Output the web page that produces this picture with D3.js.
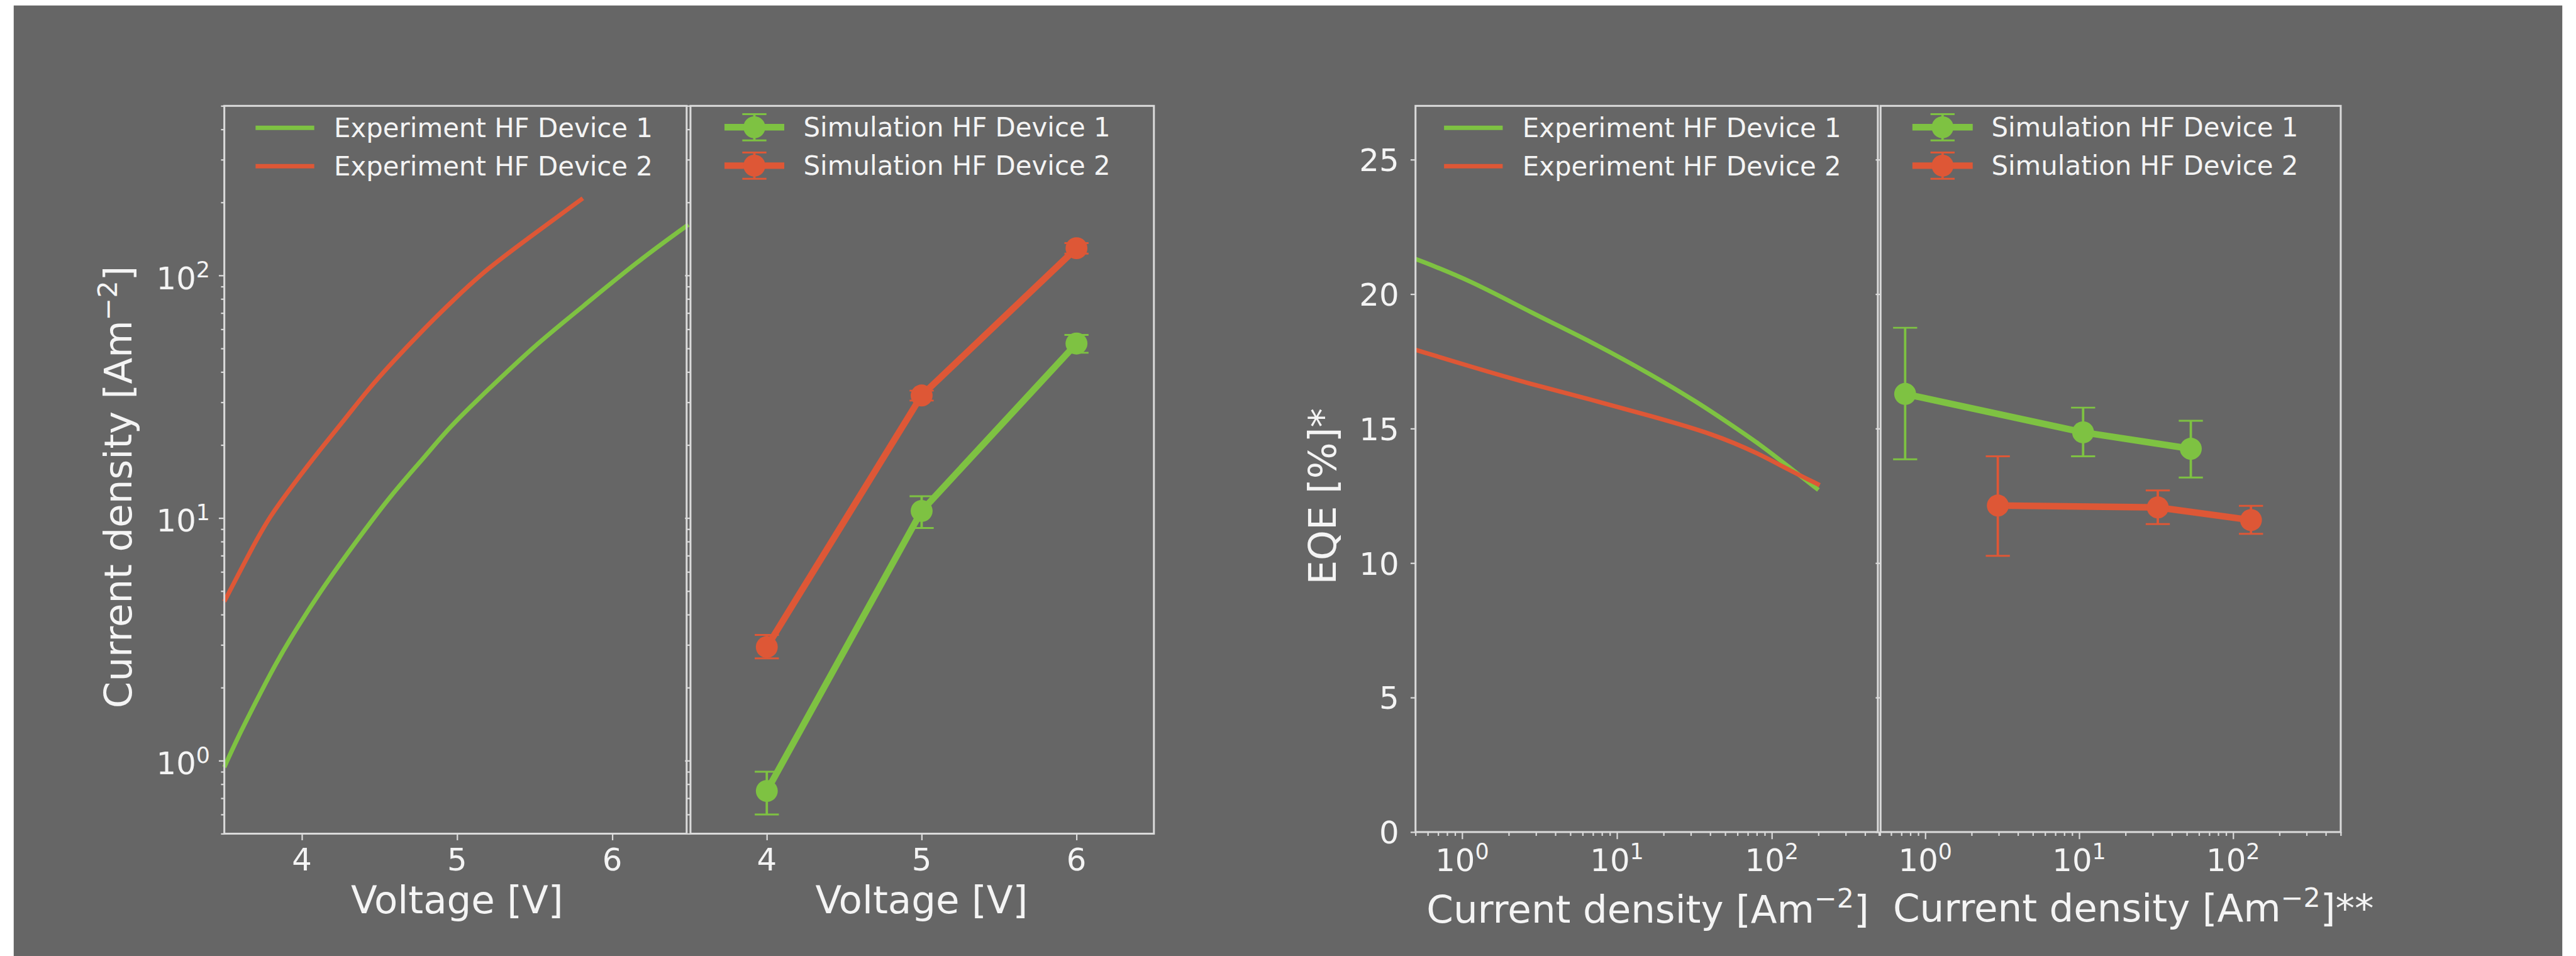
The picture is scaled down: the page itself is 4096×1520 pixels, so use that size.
<!DOCTYPE html>
<html>
<head>
<meta charset="utf-8">
<script src="https://cdn.jsdelivr.net/npm/d3@7"></script>
<style>
  body { margin: 0; background: #fff; }
  svg { display: block; }
  text { font-family: "DejaVu Sans", sans-serif; fill: #f4f4f4; }
</style>
</head>
<body>
<div id="chart"></div>
<script>
// ---------- data ----------
var voltTicks = [4, 5, 6];
var eqeTicks = [0, 5, 10, 15, 20, 25];

// experiment, current density vs voltage
var expV1 = [3.50, 3.58, 3.70, 3.83, 3.97, 4.15, 4.34, 4.58, 4.79, 4.95, 5.18, 5.50, 5.81, 6.16, 6.49];
var expJ1 = [0.94, 1.22, 1.73, 2.51, 3.55, 5.33, 7.86, 12.6, 17.8, 23.7, 32.9, 51.5, 74.4, 114, 162];
var expV2 = [3.50, 3.68, 3.79, 3.95, 4.11, 4.28, 4.42, 4.58, 4.79, 4.99, 5.18, 5.50, 5.81];
var expJ2 = [4.53, 7.55, 10.1, 13.9, 18.9, 25.7, 33.5, 43.7, 60.6, 80.8, 105, 149, 208];

// simulation, current density vs voltage (with error range)
var simV = [4, 5, 6];
var simJ1 = [0.75, 10.7, 52.4];
var simJ1lo = [0.60, 9.1, 48.0];
var simJ1hi = [0.90, 12.3, 56.9];
var simJ2 = [2.94, 32.0, 129.5];
var simJ2lo = [2.64, 30.5, 123];
var simJ2hi = [3.30, 33.5, 136];

// experiment, EQE vs current density
var eqeJ1 = [0.5, 1.13, 2.79, 6.9, 17.0, 33.5, 52.7, 82.6, 130, 200];
var eqe1 = [21.31, 20.51, 19.31, 18.22, 16.98, 15.96, 15.20, 14.44, 13.56, 12.72];
var eqeJ2 = [0.5, 1.13, 2.79, 6.9, 17.0, 42.1, 82.6, 130, 204];
var eqe2 = [17.93, 17.31, 16.65, 16.07, 15.45, 14.80, 14.07, 13.45, 12.90];

// simulation, EQE vs current density (with error range)
var simEqeJ1 = [0.74, 10.6, 53.1];
var simEqe1 = [16.29, 14.86, 14.25];
var simEqe1lo = [13.86, 13.97, 13.18];
var simEqe1hi = [18.75, 15.78, 15.29];
var simEqeJ2 = [2.96, 32.4, 130.6];
var simEqe2 = [12.14, 12.07, 11.60];
var simEqe2lo = [10.27, 11.45, 11.09];
var simEqe2hi = [13.97, 12.70, 12.13];

var expNames = ["Experiment HF Device 1", "Experiment HF Device 2"];
var simNames = ["Simulation HF Device 1", "Simulation HF Device 2"];

// ---------- setup ----------
var green = "#7ec242", red = "#de5736", spine = "#dadada";

// drawn in the reference's own pixel units, viewBox shrinks it to the window
var svg = d3.select("#chart").append("svg")
  .attr("width", 4096)
  .attr("height", 1520)
  .attr("viewBox", "0 0 4697 1743");

svg.append("rect").attr("width", 4697).attr("height", 1743).attr("fill", "#fff");
svg.append("rect").attr("x", 25).attr("y", 10).attr("width", 4647).attr("height", 1733).attr("fill", "#666666");

// scales
var jvTop = 193, jvBottom = 1520, eqeTop = 193, eqeBottom = 1517;

var yJ = d3.scaleLog().domain([0.5, 500]).range([jvBottom, jvTop]);
var xVexp = d3.scaleLinear().domain([3.5, 6.5]).range([409, 1258]);
var xVsim = d3.scaleLinear().domain([3.5, 6.5]).range([1257, 2104]);

var yE = d3.scaleLinear().domain([0, 27]).range([eqeBottom, eqeTop]);
var xJexp = d3.scaleLog().domain([0.5, 500]).range([2581, 3428]);
var xJsim = d3.scaleLog().domain([0.5, 500]).range([3426, 4268]);

var logTicks = yJ.ticks();
var logMajor = logTicks.filter(function (d) { return Math.abs(Math.log10(d) - Math.round(Math.log10(d))) < 1e-9; });
var logMinor = logTicks.filter(function (d) { return logMajor.indexOf(d) < 0; });

// ---------- helpers ----------
function frame(x0, x1, y0, y1) {
  svg.append("rect")
    .attr("x", x0).attr("y", y0)
    .attr("width", x1 - x0).attr("height", y1 - y0)
    .attr("fill", "none")
    .attr("stroke", spine)
    .attr("stroke-width", 3.5);
}

function ticksLeft(scale, xPos, values, size) {
  var g = svg.append("g")
    .attr("transform", "translate(" + xPos + ",0)")
    .call(d3.axisLeft(scale).tickValues(values).tickSize(size).tickFormat(""));
  g.select(".domain").remove();
  g.selectAll("line").attr("stroke", spine).attr("stroke-width", 2.6);
}

function ticksBottom(scale, yPos, values, size) {
  var g = svg.append("g")
    .attr("transform", "translate(0," + yPos + ")")
    .call(d3.axisBottom(scale).tickValues(values).tickSize(size).tickFormat(""));
  g.select(".domain").remove();
  g.selectAll("line").attr("stroke", spine).attr("stroke-width", 2.6);
}

function powText(sel, d) {
  sel.text("10");
  sel.append("tspan").attr("font-size", 40).attr("dy", -21).text(Math.round(Math.log10(d)));
}

function expLine(xs, ys, xScale, yScale, color) {
  var pts = xs.map(function (d, i) { return [d, ys[i]]; });
  svg.append("path")
    .datum(pts)
    .attr("fill", "none")
    .attr("stroke", color)
    .attr("stroke-width", 8)
    .attr("d", d3.line()
      .curve(d3.curveBasis)
      .x(function (d) { return xScale(d[0]); })
      .y(function (d) { return yScale(d[1]); }));
}

function errSeries(xs, ys, lo, hi, xScale, yScale, color) {
  var pts = xs.map(function (d, i) { return { x: d, y: ys[i], lo: lo[i], hi: hi[i] }; });
  var g = svg.append("g");
  // bars
  g.selectAll(".bar").data(pts).enter().append("line")
    .attr("x1", function (d) { return xScale(d.x); })
    .attr("x2", function (d) { return xScale(d.x); })
    .attr("y1", function (d) { return yScale(d.lo); })
    .attr("y2", function (d) { return yScale(d.hi); })
    .attr("stroke", color).attr("stroke-width", 4.4);
  ["lo", "hi"].forEach(function (k) {
    g.selectAll(".cap" + k).data(pts).enter().append("line")
      .attr("x1", function (d) { return xScale(d.x) - 22; })
      .attr("x2", function (d) { return xScale(d.x) + 22; })
      .attr("y1", function (d) { return yScale(d[k]); })
      .attr("y2", function (d) { return yScale(d[k]); })
      .attr("stroke", color).attr("stroke-width", 3.4);
  });
  g.append("path")
    .datum(pts)
    .attr("fill", "none")
    .attr("stroke", color)
    .attr("stroke-width", 12)
    .attr("d", d3.line()
      .x(function (d) { return xScale(d.x); })
      .y(function (d) { return yScale(d.y); }));
  g.selectAll("circle").data(pts).enter().append("circle")
    .attr("cx", function (d) { return xScale(d.x); })
    .attr("cy", function (d) { return yScale(d.y); })
    .attr("r", 20)
    .attr("fill", color);
}

function legendLines(x0, x1, tx, rows, names) {
  var colors = [green, red];
  names.forEach(function (n, i) {
    svg.append("line")
      .attr("x1", x0).attr("x2", x1)
      .attr("y1", rows[i]).attr("y2", rows[i])
      .attr("stroke", colors[i]).attr("stroke-width", 8);
    svg.append("text")
      .attr("x", tx).attr("y", rows[i] + 17)
      .attr("font-size", 48)
      .text(n);
  });
}

function legendErr(x0, x1, tx, rows, names) {
  var colors = [green, red];
  names.forEach(function (n, i) {
    var cx = (x0 + x1) / 2, cy = rows[i];
    svg.append("line").attr("x1", cx).attr("x2", cx).attr("y1", cy - 24).attr("y2", cy + 24)
      .attr("stroke", colors[i]).attr("stroke-width", 4.4);
    [-24, 24].forEach(function (o) {
      svg.append("line").attr("x1", cx - 22).attr("x2", cx + 22).attr("y1", cy + o).attr("y2", cy + o)
        .attr("stroke", colors[i]).attr("stroke-width", 3.4);
    });
    svg.append("line")
      .attr("x1", x0).attr("x2", x1)
      .attr("y1", cy).attr("y2", cy)
      .attr("stroke", colors[i]).attr("stroke-width", 12);
    svg.append("circle").attr("cx", cx).attr("cy", cy).attr("r", 20).attr("fill", colors[i]);
    svg.append("text")
      .attr("x", tx).attr("y", cy + 17)
      .attr("font-size", 48)
      .text(n);
  });
}

function unitLabel(x, y, rotate, pre, post) {
  var t = svg.append("text")
    .attr("text-anchor", "middle")
    .attr("font-size", 70)
    .attr("transform", "translate(" + x + "," + y + ")" + (rotate ? " rotate(-90)" : ""));
  t.append("tspan").text(pre + "[Am");
  t.append("tspan").attr("font-size", 49).attr("dy", -27).text("\u22122");
  t.append("tspan").attr("dy", 27).text("]" + post);
}

// ---------- J-V: experiment panel ----------
ticksLeft(yJ, 409, logMajor, 10);
ticksLeft(yJ, 409, logMinor, 6);
ticksBottom(xVexp, jvBottom, voltTicks, 12);

svg.selectAll(".ylabJ").data(logMajor).enter().append("text")
  .attr("x", 383)
  .attr("y", function (d) { return yJ(d) + 25; })
  .attr("text-anchor", "end")
  .attr("font-size", 57)
  .each(function (d) { powText(d3.select(this), d); });

svg.selectAll(".xlabV1").data(voltTicks).enter().append("text")
  .attr("x", function (d) { return xVexp(d); })
  .attr("y", 1587)
  .attr("text-anchor", "middle")
  .attr("font-size", 57)
  .text(function (d) { return d; });

expLine(expV1, expJ1, xVexp, yJ, green);
expLine(expV2, expJ2, xVexp, yJ, red);
frame(409, 1252, jvTop, jvBottom);
legendLines(466, 573, 609, [233, 303], expNames);

svg.append("text")
  .attr("x", xVexp(5)).attr("y", 1665)
  .attr("text-anchor", "middle").attr("font-size", 70)
  .text("Voltage [V]");
unitLabel(240, 888, true, "Current density ", "");

// ---------- J-V: simulation panel ----------
ticksLeft(yJ, 1259, logMajor, 10);
ticksLeft(yJ, 1259, logMinor, 6);
ticksBottom(xVsim, jvBottom, voltTicks, 12);

svg.selectAll(".xlabV2").data(voltTicks).enter().append("text")
  .attr("x", function (d) { return xVsim(d); })
  .attr("y", 1587)
  .attr("text-anchor", "middle")
  .attr("font-size", 57)
  .text(function (d) { return d; });

errSeries(simV, simJ1, simJ1lo, simJ1hi, xVsim, yJ, green);
errSeries(simV, simJ2, simJ2lo, simJ2hi, xVsim, yJ, red);
frame(1259, 2104, jvTop, jvBottom);
legendErr(1321, 1430, 1465, [232, 302], simNames);

svg.append("text")
  .attr("x", xVsim(5)).attr("y", 1665)
  .attr("text-anchor", "middle").attr("font-size", 70)
  .text("Voltage [V]");

// ---------- EQE: experiment panel ----------
var jTicks = xJexp.ticks();
var jMajor = jTicks.filter(function (d) { return logMajor.indexOf(d) >= 0; });
var jMinor = jTicks.filter(function (d) { return logMajor.indexOf(d) < 0; });

ticksLeft(yE, 2581, eqeTicks, 9);
ticksBottom(xJexp, eqeBottom, jMajor, 13);
ticksBottom(xJexp, eqeBottom, jMinor, 7);

svg.selectAll(".ylabE").data(eqeTicks).enter().append("text")
  .attr("x", 2551)
  .attr("y", function (d) { return yE(d) + 21; })
  .attr("text-anchor", "end")
  .attr("font-size", 57)
  .text(function (d) { return d; });

svg.selectAll(".xlabJ1").data(jMajor).enter().append("text")
  .attr("x", function (d) { return xJexp(d); })
  .attr("y", 1588)
  .attr("text-anchor", "middle")
  .attr("font-size", 57)
  .each(function (d) { powText(d3.select(this), d); });

expLine(eqeJ1, eqe1, xJexp, yE, green);
expLine(eqeJ2, eqe2, xJexp, yE, red);
frame(2581, 3424, eqeTop, eqeBottom);
legendLines(2633, 2740, 2776, [233, 303], expNames);

unitLabel(xJexp(Math.sqrt(250)), 1682, false, "Current density ", "");
svg.append("text")
  .attr("text-anchor", "middle")
  .attr("font-size", 70)
  .attr("transform", "translate(2436,905) rotate(-90)")
  .text("EQE [%]*");

// ---------- EQE: simulation panel ----------
ticksLeft(yE, 3429, eqeTicks, 9);
ticksBottom(xJsim, eqeBottom, jMajor, 13);
ticksBottom(xJsim, eqeBottom, jMinor, 7);

svg.selectAll(".xlabJ2").data(jMajor).enter().append("text")
  .attr("x", function (d) { return xJsim(d); })
  .attr("y", 1588)
  .attr("text-anchor", "middle")
  .attr("font-size", 57)
  .each(function (d) { powText(d3.select(this), d); });

errSeries(simEqeJ1, simEqe1, simEqe1lo, simEqe1hi, xJsim, yE, green);
errSeries(simEqeJ2, simEqe2, simEqe2lo, simEqe2hi, xJsim, yE, red);
frame(3429, 4268, eqeTop, eqeBottom);
legendErr(3487, 3597, 3631, [232, 302], simNames);

unitLabel(3890, 1680, false, "Current density ", "**");
</script>
</body>
</html>
